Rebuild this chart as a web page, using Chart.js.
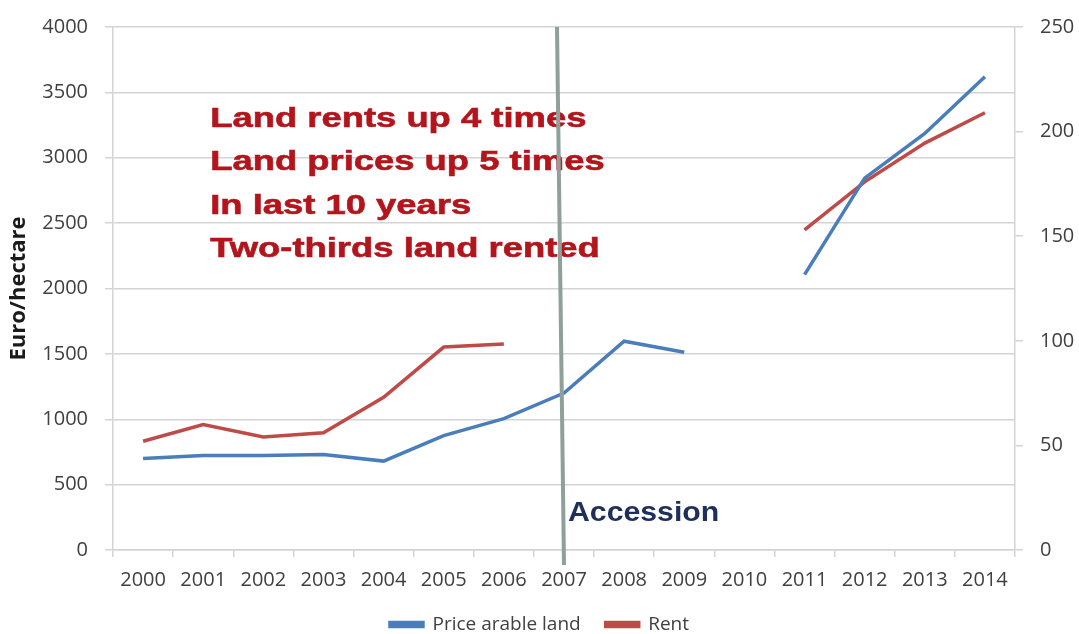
<!DOCTYPE html>
<html>
<head>
<meta charset="utf-8">
<script src="https://cdn.jsdelivr.net/npm/chart.js@4.4.1/dist/chart.umd.min.js"></script>
<style>
  html, body { margin: 0; padding: 0; background: #fff; }
  #wrap { width: 1079px; height: 634px; position: relative; }
</style>
</head>
<body>
<div id="wrap"><canvas id="chartTerres"></canvas></div>
<script>
// Données
const annees = ['2000', '2001', '2002', '2003', '2004', '2005', '2006', '2007',
                '2008', '2009', '2010', '2011', '2012', '2013', '2014'];
const prixTerre = [700, 722, 722, 730, 680, 875, 1005, 1200, 1597, 1513, null, 2106, 2844, 3186, 3620];
const loyer = [52, 60, 54, 56, 73, 97, 98.5, null, null, null, null, 153, 176, 194.5, 209];
const ticksGauche = [0, 500, 1000, 1500, 2000, 2500, 3000, 3500, 4000];
const ticksDroite = [0, 50, 100, 150, 200, 250];
const messages = ['Land rents up 4 times', 'Land prices up 5 times', 'In last 10 years', 'Two-thirds land rented'];
const anneeAdhesion = '2007';

const police = "'Open Sans', sans-serif";
const grisTexte = '#404040';
const grisGrille = '#d4d4d4';

// Hauteur fixe pour la légende (sinon elle pousse le graphique vers le haut)
const hauteurLegende = {
    id: 'hauteurLegende',
    beforeLayout(chart) {
        const lg = chart.legend;
        if (lg && !lg._patched) {
            const fitOrig = lg.fit.bind(lg);
            lg.fit = function () {
                fitOrig();
                this.height = 44;
            };
            lg._patched = true;
        }
    }
};

// Ligne verticale "Accession" + texte rouge
const annotations = {
    id: 'annotations',
    afterDatasetsDraw(chart) {
        const ctx = chart.ctx;
        const x = chart.scales.x;
        const y = chart.scales.y;
        const area = chart.chartArea;

        // texte rouge (étiré horizontalement comme sur l'image)
        ctx.save();
        ctx.fillStyle = '#b3151d';
        ctx.strokeStyle = '#b3151d';
        ctx.lineWidth = 0.6;
        ctx.font = "bold 28px 'Liberation Sans', Arial, sans-serif";
        ctx.textBaseline = 'middle';
        ctx.textAlign = 'left';
        const x0 = x.getPixelForValue(1) + 7;
        messages.forEach((m, i) => {
            const yy = y.getPixelForValue(3293 - i * 331);
            ctx.save();
            ctx.translate(x0, yy);
            ctx.scale(1.3, 1);
            ctx.fillText(m, 0, 0);
            ctx.strokeText(m, 0, 0);
            ctx.restore();
        });

        // ligne d'adhésion
        const xa = x.getPixelForValue(annees.indexOf(anneeAdhesion));
        ctx.strokeStyle = '#8fa09b';
        ctx.lineWidth = 4;
        ctx.beginPath();
        ctx.moveTo(xa - 7, area.top);
        ctx.lineTo(xa, area.bottom + 15);
        ctx.stroke();

        ctx.fillStyle = '#1f2f5c';
        ctx.font = "bold 28px 'Liberation Sans', Arial, sans-serif";
        ctx.translate(xa + 4, y.getPixelForValue(281));
        ctx.scale(1.08, 1);
        ctx.fillText('Accession', 0, 0);
        ctx.restore();
    }
};

new Chart(document.getElementById('chartTerres'), {
    type: 'line',
    data: {
        labels: annees,
        datasets: [{
            label: 'Price arable land',
            data: prixTerre,
            yAxisID: 'y',
            borderColor: '#4a7ebb',
            backgroundColor: '#4a7ebb',
            borderWidth: 3.5,
            pointRadius: 0,
            tension: 0,
            spanGaps: false
        }, {
            label: 'Rent',
            data: loyer,
            yAxisID: 'y2',
            borderColor: '#be4b48',
            backgroundColor: '#be4b48',
            borderWidth: 3.5,
            pointRadius: 0,
            tension: 0,
            spanGaps: false
        }]
    },
    options: {
        responsive: true,
        maintainAspectRatio: false,
        animation: false,
        layout: { padding: { top: 14, left: 0, right: 0, bottom: 0 } },
        plugins: {
            tooltip: { enabled: false },
            legend: {
                display: true,
                position: 'bottom',
                labels: {
                    boxWidth: 33,
                    boxHeight: 4,
                    padding: 25,
                    color: grisTexte,
                    font: { family: police, size: 19 }
                }
            }
        },
        scales: {
            x: {
                offset: true,
                grid: {
                    offset: true,
                    drawOnChartArea: false,
                    color: grisGrille,
                    lineWidth: 1.5,
                    tickLength: 7
                },
                border: { color: grisGrille, width: 1.5 },
                ticks: {
                    color: grisTexte,
                    padding: 11,
                    maxRotation: 0,
                    font: { family: police, size: 20 }
                },
                afterFit: s => { s.height = 40; }
            },
            y: {
                position: 'left',
                min: 0,
                max: 4000,
                afterBuildTicks: s => { s.ticks = ticksGauche.map(v => ({ value: v })); },
                grid: { color: grisGrille, lineWidth: 1.5, tickLength: 8 },
                border: { color: grisGrille, width: 1.5 },
                ticks: {
                    color: grisTexte,
                    padding: 17,
                    font: { family: police, size: 20, lineHeight: 1 },
                    callback: v => String(v)
                },
                title: {
                    display: true,
                    text: 'Euro/hectare',
                    color: '#1a1a1a',
                    padding: { top: 6, bottom: 0 },
                    font: { family: police, size: 22, weight: 'bold' }
                },
                afterFit: s => { s.width = 113; }
            },
            y2: {
                position: 'right',
                min: 0,
                max: 250,
                afterBuildTicks: s => { s.ticks = ticksDroite.map(v => ({ value: v })); },
                grid: { drawOnChartArea: false, color: grisGrille, lineWidth: 1.5, tickLength: 8 },
                border: { color: grisGrille, width: 1.5 },
                ticks: {
                    color: grisTexte,
                    padding: 17,
                    font: { family: police, size: 20, lineHeight: 1 },
                    callback: v => String(v)
                },
                afterFit: s => { s.width = 64; }
            }
        }
    },
    plugins: [hauteurLegende, annotations]
});
</script>
</body>
</html>
